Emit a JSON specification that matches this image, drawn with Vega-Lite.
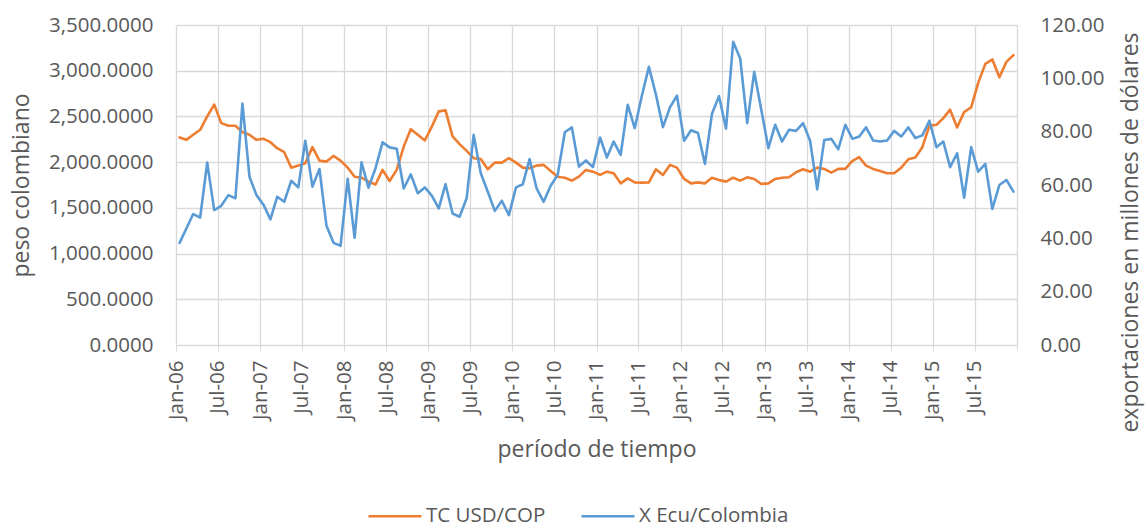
{
  "$schema": "https://vega.github.io/schema/vega-lite/v6.json",
  "width": 841,
  "height": 320,
  "autosize": {"type": "none"},
  "padding": {"left": 176, "top": 25, "right": 128, "bottom": 182},
  "background": "white",
  "config": {
    "font": "Open Sans",
    "view": {"stroke": null},
    "axis": {"labelColor": "#595959", "titleColor": "#595959", "labelFontSize": 20.5, "titleFontSize": 23, "titleFontWeight": "normal"}
  },
  "data": {
    "values": [
      {"date":"2006-01-01","tc":2270,"x":38.3},{"date":"2006-02-01","tc":2244,"x":43.7},{"date":"2006-03-01","tc":2299,"x":49.1},{"date":"2006-04-01","tc":2354,"x":47.8},{"date":"2006-05-01","tc":2500,"x":68.4},{"date":"2006-06-01","tc":2629,"x":50.6},{"date":"2006-07-01","tc":2427,"x":52.2},{"date":"2006-08-01","tc":2398,"x":56.2},{"date":"2006-09-01","tc":2398,"x":55.0},{"date":"2006-10-01","tc":2328,"x":90.5},{"date":"2006-11-01","tc":2299,"x":63.1},{"date":"2006-12-01","tc":2244,"x":56.2},
      {"date":"2007-01-01","tc":2255,"x":52.5},{"date":"2007-02-01","tc":2218,"x":47.1},{"date":"2007-03-01","tc":2153,"x":55.6},{"date":"2007-04-01","tc":2109,"x":53.7},{"date":"2007-05-01","tc":1940,"x":61.6},{"date":"2007-06-01","tc":1962,"x":59.1},{"date":"2007-07-01","tc":1988,"x":76.6},{"date":"2007-08-01","tc":2164,"x":59.4},{"date":"2007-09-01","tc":2017,"x":66.0},{"date":"2007-10-01","tc":2006,"x":44.7},{"date":"2007-11-01","tc":2068,"x":38.3},{"date":"2007-12-01","tc":2017,"x":37.2},
      {"date":"2008-01-01","tc":1940,"x":62.3},{"date":"2008-02-01","tc":1841,"x":40.2},{"date":"2008-03-01","tc":1830,"x":68.5},{"date":"2008-04-01","tc":1787,"x":59.0},{"date":"2008-05-01","tc":1755,"x":66.3},{"date":"2008-06-01","tc":1915,"x":76.0},{"date":"2008-07-01","tc":1794,"x":74.1},{"date":"2008-08-01","tc":1915,"x":73.6},{"date":"2008-09-01","tc":2171,"x":58.7},{"date":"2008-10-01","tc":2361,"x":64.0},{"date":"2008-11-01","tc":2299,"x":56.9},{"date":"2008-12-01","tc":2237,"x":59.1},
      {"date":"2009-01-01","tc":2391,"x":55.9},{"date":"2009-02-01","tc":2555,"x":51.2},{"date":"2009-03-01","tc":2566,"x":60.3},{"date":"2009-04-01","tc":2281,"x":49.3},{"date":"2009-05-01","tc":2197,"x":48.1},{"date":"2009-06-01","tc":2123,"x":55.0},{"date":"2009-07-01","tc":2043,"x":78.8},{"date":"2009-08-01","tc":2035,"x":64.4},{"date":"2009-09-01","tc":1922,"x":57.5},{"date":"2009-10-01","tc":1995,"x":50.3},{"date":"2009-11-01","tc":1995,"x":54.1},{"date":"2009-12-01","tc":2043,"x":48.7},
      {"date":"2010-01-01","tc":1995,"x":59.1},{"date":"2010-02-01","tc":1940,"x":60.3},{"date":"2010-03-01","tc":1933,"x":69.7},{"date":"2010-04-01","tc":1962,"x":58.7},{"date":"2010-05-01","tc":1970,"x":53.7},{"date":"2010-06-01","tc":1904,"x":59.7},{"date":"2010-07-01","tc":1841,"x":63.8},{"date":"2010-08-01","tc":1830,"x":79.8},{"date":"2010-09-01","tc":1798,"x":81.6},{"date":"2010-10-01","tc":1841,"x":66.9},{"date":"2010-11-01","tc":1915,"x":69.2},{"date":"2010-12-01","tc":1896,"x":66.7},
      {"date":"2011-01-01","tc":1860,"x":77.8},{"date":"2011-02-01","tc":1896,"x":70.3},{"date":"2011-03-01","tc":1878,"x":76.3},{"date":"2011-04-01","tc":1768,"x":71.3},{"date":"2011-05-01","tc":1823,"x":90.1},{"date":"2011-06-01","tc":1779,"x":81.3},{"date":"2011-07-01","tc":1776,"x":93.3},{"date":"2011-08-01","tc":1779,"x":104.3},{"date":"2011-09-01","tc":1922,"x":93.9},{"date":"2011-10-01","tc":1860,"x":81.7},{"date":"2011-11-01","tc":1970,"x":89.1},{"date":"2011-12-01","tc":1940,"x":93.5},
      {"date":"2012-01-01","tc":1816,"x":76.6},{"date":"2012-02-01","tc":1768,"x":80.5},{"date":"2012-03-01","tc":1779,"x":79.5},{"date":"2012-04-01","tc":1768,"x":67.9},{"date":"2012-05-01","tc":1830,"x":86.7},{"date":"2012-06-01","tc":1805,"x":93.3},{"date":"2012-07-01","tc":1787,"x":81.1},{"date":"2012-08-01","tc":1830,"x":113.7},{"date":"2012-09-01","tc":1798,"x":107.4},{"date":"2012-10-01","tc":1834,"x":83.2},{"date":"2012-11-01","tc":1816,"x":102.4},{"date":"2012-12-01","tc":1761,"x":88.2},
      {"date":"2013-01-01","tc":1768,"x":73.8},{"date":"2013-02-01","tc":1816,"x":82.6},{"date":"2013-03-01","tc":1830,"x":76.3},{"date":"2013-04-01","tc":1834,"x":80.7},{"date":"2013-05-01","tc":1890,"x":80.3},{"date":"2013-06-01","tc":1922,"x":83.2},{"date":"2013-07-01","tc":1896,"x":76.6},{"date":"2013-08-01","tc":1940,"x":58.4},{"date":"2013-09-01","tc":1926,"x":76.9},{"date":"2013-10-01","tc":1886,"x":77.3},{"date":"2013-11-01","tc":1926,"x":73.4},{"date":"2013-12-01","tc":1926,"x":82.6},
      {"date":"2014-01-01","tc":2014,"x":77.3},{"date":"2014-02-01","tc":2054,"x":78.2},{"date":"2014-03-01","tc":1962,"x":81.6},{"date":"2014-04-01","tc":1926,"x":76.7},{"date":"2014-05-01","tc":1904,"x":76.3},{"date":"2014-06-01","tc":1878,"x":76.7},{"date":"2014-07-01","tc":1878,"x":80.3},{"date":"2014-08-01","tc":1940,"x":78.2},{"date":"2014-09-01","tc":2032,"x":81.6},{"date":"2014-10-01","tc":2050,"x":77.6},{"date":"2014-11-01","tc":2164,"x":78.6},{"date":"2014-12-01","tc":2398,"x":84.1},
      {"date":"2015-01-01","tc":2409,"x":74.2},{"date":"2015-02-01","tc":2482,"x":76.3},{"date":"2015-03-01","tc":2574,"x":66.7},{"date":"2015-04-01","tc":2380,"x":71.9},{"date":"2015-05-01","tc":2548,"x":55.2},{"date":"2015-06-01","tc":2599,"x":74.2},{"date":"2015-07-01","tc":2867,"x":65.0},{"date":"2015-08-01","tc":3075,"x":67.9},{"date":"2015-09-01","tc":3123,"x":51.0},{"date":"2015-10-01","tc":2929,"x":60.0},{"date":"2015-11-01","tc":3097,"x":61.9},{"date":"2015-12-01","tc":3170,"x":57.5}
    ]
  },
  "encoding": {
    "x": {
      "field": "date",
      "timeUnit": "utcyearmonth",
      "type": "temporal",
      "bandPosition": 0.5,
      "scale": {"domain": [{"year": 2006, "month": 1, "date": 1, "utc": true}, {"year": 2016, "month": 1, "date": 1, "utc": true}]},
      "axis": {
        "tickCount": {"interval": "month", "step": 6},
        "format": "%b-%y",
        "labelExpr": "utcyear(datum.value) >= 2016 ? '' : datum.label",
        "labelAngle": -90,
        "labelAlign": "right",
        "labelBaseline": "middle",
        "labelPadding": 9,
        "tickSize": 6,
        "tickColor": "#D9D9D9",
        "domainColor": "#D9D9D9",
        "grid": true,
        "gridColor": "#D9D9D9",
        "gridWidth": 1.3,
        "labelOverlap": false,
        "title": "período de tiempo",
        "titlePadding": 19
      }
    }
  },
  "layer": [
    {
      "mark": {"type": "line", "strokeWidth": 2.6, "strokeJoin": "round", "strokeCap": "round"},
      "encoding": {
        "y": {
          "field": "tc", "type": "quantitative",
          "scale": {"domain": [0, 3500], "nice": false},
          "axis": {"values": [0, 500, 1000, 1500, 2000, 2500, 3000, 3500], "format": ",.4f", "grid": true, "gridColor": "#D9D9D9", "gridWidth": 1.3, "domain": false, "ticks": false, "labelPadding": 23, "title": "peso colombiano", "titlePadding": 15}
        },
        "color": {"datum": "TC USD/COP", "type": "nominal"}
      }
    },
    {
      "mark": {"type": "line", "strokeWidth": 2.6, "strokeJoin": "round", "strokeCap": "round"},
      "encoding": {
        "y": {
          "field": "x", "type": "quantitative",
          "scale": {"domain": [0, 120], "nice": false},
          "axis": {"orient": "right", "values": [0, 20, 40, 60, 80, 100, 120], "format": ",.2f", "grid": false, "domain": false, "ticks": false, "labelPadding": 23, "title": "exportaciones en millones de dólares", "titleAngle": -90, "titleAlign": "center", "titleBaseline": "middle", "titleX": 113, "titleY": 207}
        },
        "color": {
          "datum": "X Ecu/Colombia", "type": "nominal",
          "scale": {"domain": ["TC USD/COP", "X Ecu/Colombia"], "range": ["#ED7D31", "#5B9BD5"]},
          "legend": {"orient": "none", "direction": "horizontal", "legendX": 191, "legendY": 463, "title": null, "symbolType": "stroke", "symbolSize": 2809, "symbolStrokeWidth": 2.6, "labelFontSize": 20.5, "labelColor": "#595959", "labelOffset": 3, "columnPadding": 30}
        }
      }
    }
  ],
  "resolve": {"scale": {"y": "independent"}}
}
